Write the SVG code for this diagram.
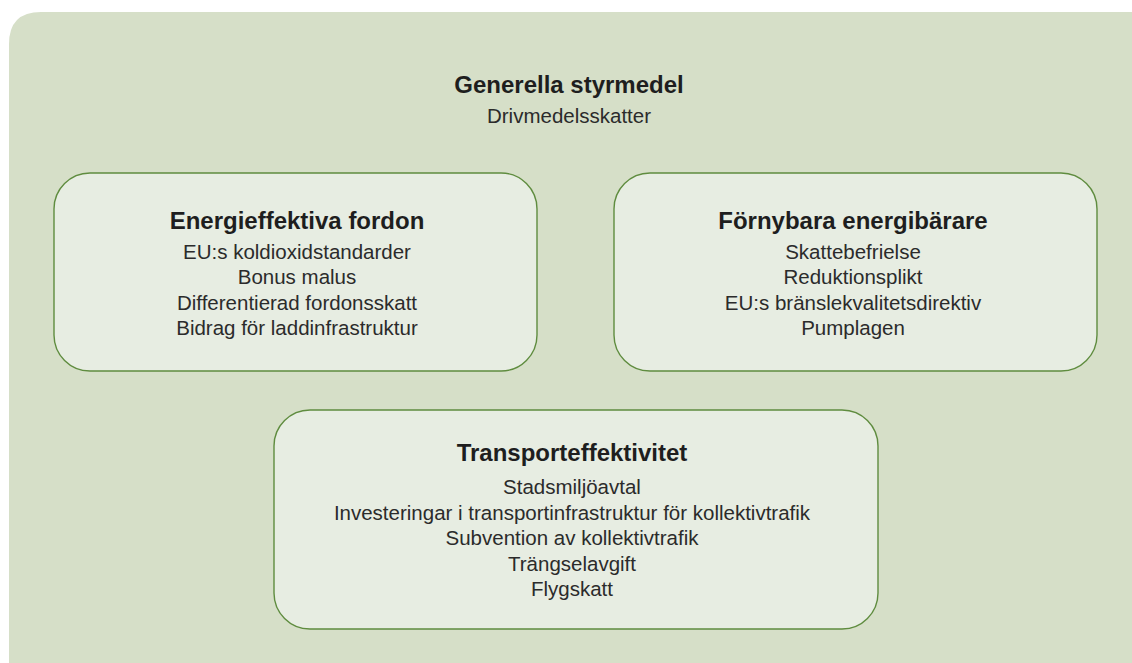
<svg xmlns="http://www.w3.org/2000/svg" width="1132" height="663" viewBox="0 0 1132 663">
<style>
.bg{fill:#d6dfc8}
.node{fill:#e7ede2;stroke:#5f8c3f;stroke-width:1.4}
text{font-family:"Liberation Sans",Arial,sans-serif;fill:#222;text-anchor:middle}
.t{font-weight:bold;font-size:24px;fill:#1e1e1e}
.l{font-size:20.5px;fill:#2b2b2b}
</style>
<rect width="1132" height="663" fill="#ffffff"/>
<path class="bg" d="M9,44 Q9,12 41,12 L1132,12 L1132,663 L9,663 Z"/>
<g id="generella">
<text class="t" x="569" y="93">Generella styrmedel</text>
<text class="l" x="569" y="123">Drivmedelsskatter</text>
</g>
<g id="energieffektiva">
<rect class="node" x="54" y="173" width="483" height="198" rx="36"/>
<text class="t" x="297" y="229">Energieffektiva fordon</text>
<text class="l" x="297" y="259">EU:s koldioxidstandarder</text>
<text class="l" x="297" y="284">Bonus malus</text>
<text class="l" x="297" y="310">Differentierad fordonsskatt</text>
<text class="l" x="297" y="335">Bidrag för laddinfrastruktur</text>
</g>
<g id="fornybara">
<rect class="node" x="614" y="173" width="483" height="198" rx="36"/>
<text class="t" x="853" y="229">Förnybara energibärare</text>
<text class="l" x="853" y="259">Skattebefrielse</text>
<text class="l" x="853" y="284">Reduktionsplikt</text>
<text class="l" x="853" y="310">EU:s bränslekvalitetsdirektiv</text>
<text class="l" x="853" y="335">Pumplagen</text>
</g>
<g id="transport">
<rect class="node" x="274" y="410" width="604" height="219" rx="36"/>
<text class="t" x="572" y="461">Transporteffektivitet</text>
<text class="l" x="572" y="494">Stadsmiljöavtal</text>
<text class="l" x="572" y="520">Investeringar i transportinfrastruktur för kollektivtrafik</text>
<text class="l" x="572" y="545">Subvention av kollektivtrafik</text>
<text class="l" x="572" y="571">Trängselavgift</text>
<text class="l" x="572" y="596">Flygskatt</text>
</g>
<g id="connectors"/>
</svg>
